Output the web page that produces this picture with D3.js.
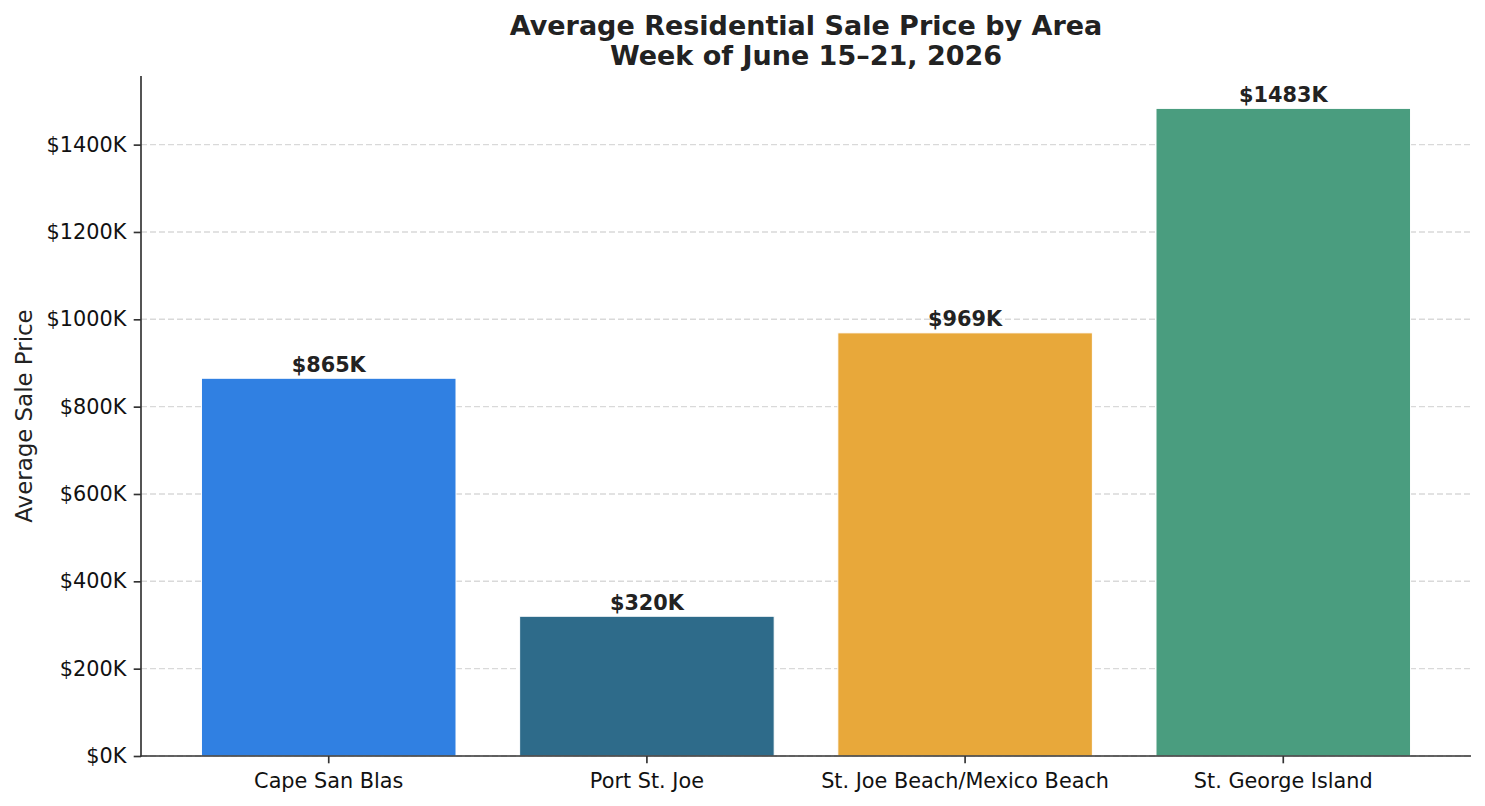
<!DOCTYPE html>
<html>
<head>
<meta charset="utf-8">
<script src="https://cdn.jsdelivr.net/npm/d3@7"></script>
<style>
  html, body { margin: 0; padding: 0; background: #ffffff; }
  svg { display: block; font-family: "DejaVu Sans", sans-serif; }
</style>
</head>
<body>
<svg id="chart" width="1485" height="806"></svg>
<script>
const categories = ["Cape San Blas", "Port St. Joe", "St. Joe Beach/Mexico Beach", "St. George Island"];
const values = [865, 320, 969, 1483];
const barColors = ["#3080E2", "#2E6B8A", "#E8A83A", "#4A9D7F"];
const yTicks = [0, 200, 400, 600, 800, 1000, 1200, 1400];
const titleLines = ["Average Residential Sale Price by Area", "Week of June 15\u201321, 2026"];
const yLabel = "Average Sale Price";

(function () {
const svg = d3.select("#chart");
const mLeft = 141, mRight = 1471, mTop = 76, mBottom = 756;

const yMax = d3.max(values) * 1.05;
const y = d3.scaleLinear().domain([0, yMax]).range([mBottom, mTop]);

const n = categories.length;
const xMin = -0.4 - 0.05 * (n - 1 + 0.8);
const xMaxV = n - 1 + 0.4 + 0.05 * (n - 1 + 0.8);
const xl = d3.scaleLinear().domain([xMin, xMaxV]).range([mLeft, mRight]);
const barW = xl(0.8) - xl(0);

// gridlines
svg.append("g").selectAll("line").data(yTicks).join("line")
  .attr("x1", mLeft).attr("x2", mRight)
  .attr("y1", d => y(d)).attr("y2", d => y(d))
  .attr("stroke", "#d9d9d9").attr("stroke-width", 1.4)
  .attr("stroke-dasharray", "6,3");

// bars
svg.append("g").selectAll("rect").data(values).join("rect")
  .attr("x", (d, i) => xl(i) - barW / 2)
  .attr("width", barW)
  .attr("y", d => y(d))
  .attr("height", d => mBottom - y(d))
  .attr("fill", (d, i) => barColors[i])
  .attr("stroke", "#ffffff").attr("stroke-width", 1);

// value labels
svg.append("g").selectAll("text").data(values).join("text")
  .attr("x", (d, i) => xl(i))
  .attr("y", d => y(d) - 6.5)
  .attr("text-anchor", "middle")
  .attr("font-size", "20.8px").attr("font-weight", "bold")
  .attr("fill", "#222222")
  .text(d => "$" + d + "K");

// y axis
const yAxis = d3.axisLeft(y).tickValues(yTicks).tickFormat(d => "$" + d + "K")
  .tickSizeOuter(0).tickSize(7.3).tickPadding(7.3);
const gy = svg.append("g").attr("transform", `translate(${mLeft},0)`).call(yAxis);
gy.select(".domain").remove();
gy.selectAll(".tick line").attr("stroke", "#333333").attr("stroke-width", 1.67);
gy.selectAll(".tick text").attr("font-size", "20.8px").attr("fill", "#111111")
  .attr("font-family", "DejaVu Sans, sans-serif");

// x axis ticks
const gx = svg.append("g");
gx.selectAll("line").data(categories).join("line")
  .attr("x1", (d, i) => xl(i)).attr("x2", (d, i) => xl(i))
  .attr("y1", mBottom).attr("y2", mBottom + 7.3)
  .attr("stroke", "#333333").attr("stroke-width", 1.67);
gx.selectAll("text").data(categories).join("text")
  .attr("x", (d, i) => xl(i))
  .attr("y", mBottom + 7.3 + 7.3)
  .attr("dy", "0.84em")
  .attr("text-anchor", "middle")
  .attr("font-size", "20.8px").attr("fill", "#111111")
  .text(d => d);

// spines
svg.append("line").attr("x1", mLeft).attr("x2", mLeft).attr("y1", mTop).attr("y2", mBottom + 0.8)
  .attr("stroke", "#333333").attr("stroke-width", 1.67);
svg.append("line").attr("x1", mLeft - 0.8).attr("x2", mRight).attr("y1", mBottom).attr("y2", mBottom)
  .attr("stroke", "#333333").attr("stroke-width", 1.67);

// y label
svg.append("text")
  .attr("transform", `translate(32,${(mTop + mBottom) / 2}) rotate(-90)`)
  .attr("text-anchor", "middle")
  .attr("font-size", "22.9px").attr("fill", "#222222")
  .text(yLabel);

// title
const title = svg.append("text").attr("text-anchor", "middle")
  .attr("font-size", "27px").attr("font-weight", "bold").attr("fill", "#222222");
titleLines.forEach((t, i) => {
  title.append("tspan").attr("x", (mLeft + mRight) / 2).attr("y", 35 + i * 30).text(t);
});
})();
</script>
</body>
</html>
